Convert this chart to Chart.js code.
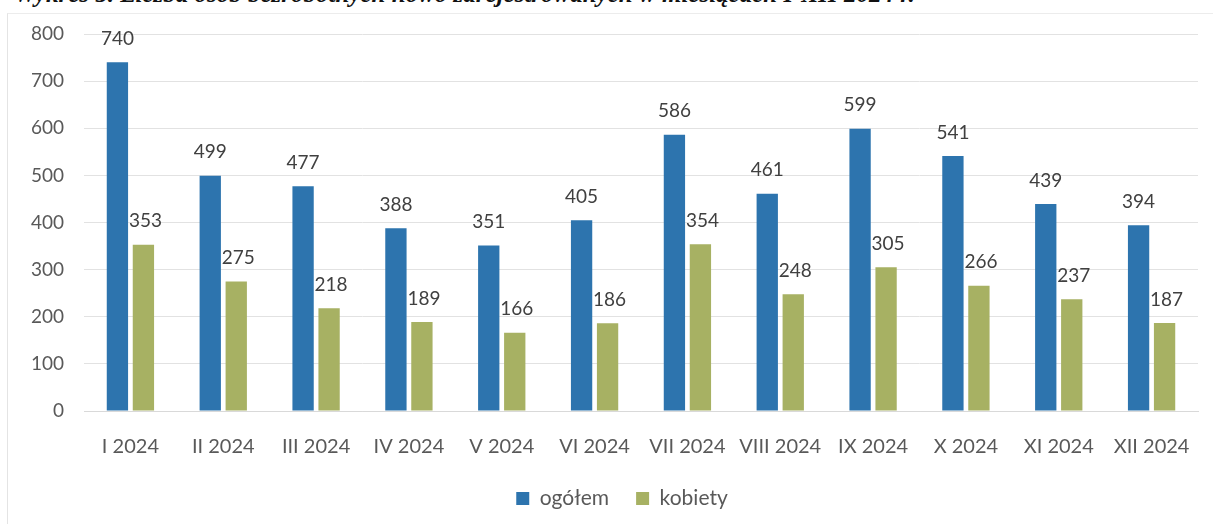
<!DOCTYPE html>
<html>
<head>
<meta charset="utf-8">
<script src="https://cdn.jsdelivr.net/npm/chart.js@4"></script>
<style>
  html, body { margin: 0; padding: 0; background: #fff; overflow: hidden; }
  #wrap { position: relative; width: 1219px; height: 528px; }
  #title {
    position: absolute; left: 14px; top: -20px; white-space: nowrap;
    font: italic bold 25px "Liberation Serif", serif; color: #111;
  }
  #frame {
    position: absolute; left: 7px; top: 13px; width: 1205px; height: 510px;
    border-left: 1px solid #e4e4e4; border-top: 1px solid #ececec;
  }
  canvas { position: absolute; left: 0; top: 0; }
</style>
</head>
<body>
<div id="wrap">
  <div id="frame"></div>
  <div id="title">Wykres 5. Liczba osób bezrobotnych nowo zarejestrowanych w miesiącach I-XII 2024 r.</div>
  <canvas id="popChart" width="1219" height="528"></canvas>
</div>
<script>
const months = ['I 2024', 'II 2024', 'III 2024', 'IV 2024', 'V 2024', 'VI 2024',
  'VII 2024', 'VIII 2024', 'IX 2024', 'X 2024', 'XI 2024', 'XII 2024'];
const ogolem = [740, 499, 477, 388, 351, 405, 586, 461, 599, 541, 439, 394];
const kobiety = [353, 275, 218, 189, 166, 186, 354, 248, 305, 266, 237, 187];
const yTicks = [0, 100, 200, 300, 400, 500, 600, 700, 800];

const FONT = 'Lato, sans-serif';
const TEXT = '#595959';
const LEGEND_SHIFT = 23;

// etykiety z wartościami nad słupkami
const barValues = {
  id: 'barValues',
  afterLayout(chart) {
    // legenda w oryginale jest przesunięta w prawo
    chart.legend.left += LEGEND_SHIFT;
    chart.legend.right += LEGEND_SHIFT;
  },
  afterDatasetsDraw(chart) {
    const { ctx } = chart;
    ctx.save();
    ctx.font = `19px ${FONT}`;
    ctx.fillStyle = '#404040';
    ctx.textAlign = 'center';
    ctx.textBaseline = 'bottom';
    chart.data.datasets.forEach((ds, i) => {
      chart.getDatasetMeta(i).data.forEach((bar, j) => {
        ctx.fillText(ds.data[j], bar.x + (i === 1 ? 2 : 0), bar.y - 14);
      });
    });
    ctx.restore();
  },
};

const popCanvas = document.getElementById('popChart').getContext('2d');

new Chart(popCanvas, {
  type: 'bar',
  data: {
    labels: months,
    datasets: [{
      label: 'ogółem',
      data: ogolem,
      backgroundColor: '#2d74ae',
    }, {
      label: 'kobiety',
      data: kobiety,
      backgroundColor: '#a7b163',
    }],
  },
  options: {
    responsive: false,
    animation: false,
    layout: { padding: { left: 0, right: 21, top: 34, bottom: 9 } },
    datasets: {
      bar: { categoryPercentage: 0.56, barPercentage: 0.82 },
    },
    plugins: {
      tooltip: { enabled: false },
      legend: {
        position: 'bottom',
        labels: {
          font: { family: FONT, size: 21 },
          color: TEXT,
          boxWidth: 13,
          boxHeight: 13,
          padding: 27,
        },
      },
    },
    scales: {
      x: {
        grid: { display: false, drawTicks: false },
        border: { color: '#d9d9d9' },
        ticks: { font: { family: FONT, size: 20 }, color: TEXT, padding: 24, maxRotation: 0 },
        afterFit(scale) { scale.height = 50; },
      },
      y: {
        min: 0,
        max: 800,
        afterBuildTicks(scale) { scale.ticks = yTicks.map((v) => ({ value: v })); },
        grid: { color: '#e2e2e2', drawTicks: false },
        border: { display: false },
        ticks: { font: { family: FONT, size: 19 }, color: TEXT, padding: 20 },
        afterFit(scale) { scale.width = 84; },
      },
    },
  },
  plugins: [barValues],
});
</script>
</body>
</html>
